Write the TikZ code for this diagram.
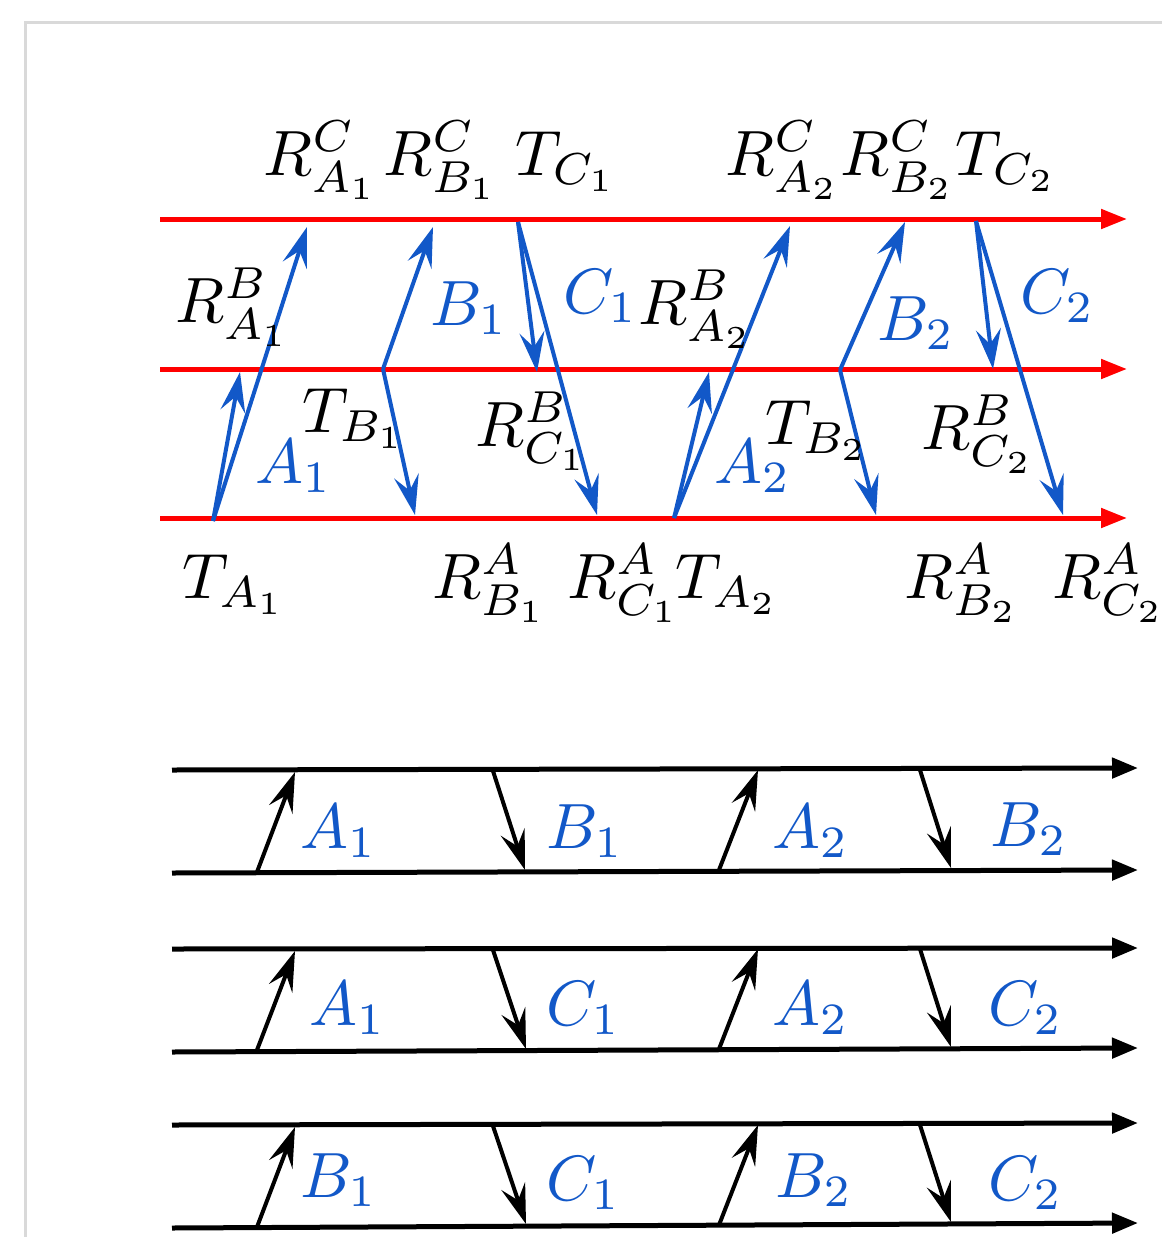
\documentclass[tikz,border=0pt]{standalone}
\usepackage{graphicx}
\usetikzlibrary{arrows.meta}
\definecolor{myblue}{RGB}{18,88,200}
\definecolor{frame}{RGB}{217,217,217}
\newcommand{\lblmath}[1]{\scalebox{6.4}{$#1$}}
\begin{document}
\begin{tikzpicture}[x=1pt,y=-1pt,
  lbl/.style={inner sep=0pt,anchor=base west},
  blbl/.style={lbl,text=myblue},
  redline/.style={draw=red,line width=5pt,-{Triangle[length=26pt,width=19pt]}},
  blkline/.style={draw=black,line width=5pt,-{Triangle[length=26pt,width=20pt]}},
  bluearr/.style={draw=myblue,line width=4pt,-{Stealth[length=40pt,width=25pt,inset=15pt]}},
  blkarr/.style={draw=black,line width=4pt,-{Stealth[length=40pt,width=25pt,inset=15pt]}}]
\useasboundingbox (0,0) rectangle (1162,1237);
% frame
\coordinate (f1) at (25,1240);
\coordinate (f2) at (25,22);
\coordinate (f3) at (1165,22);
\draw[frame,line width=3pt] (f1) -- (f2) -- (f3);

% ---------- top diagram: red time lines ----------
\coordinate (rs1) at (160,219); \coordinate (re1) at (1127,219);
\coordinate (rs2) at (160,369); \coordinate (re2) at (1127,369);
\coordinate (rs3) at (160,518); \coordinate (re3) at (1127,518);
\draw[redline] (rs1) -- (re1);
\draw[redline] (rs2) -- (re2);
\draw[redline] (rs3) -- (re3);

% A1
\coordinate (a1o) at (213,521);
\coordinate (a1t) at (307,227);
\coordinate (a1m) at (240,372);
\draw[bluearr] (a1o) -- (a1t);
\draw[bluearr] (a1o) -- (a1m);
% B1
\coordinate (b1o) at (383,369);
\coordinate (b1t) at (433,227);
\coordinate (b1b) at (415,515);
\draw[bluearr] (b1o) -- (b1t);
\draw[bluearr] (b1o) -- (b1b);
% C1
\coordinate (c1o) at (518,222);
\coordinate (c1m) at (537,372);
\coordinate (c1b) at (597,515);
\draw[bluearr] (c1o) -- (c1m);
\draw[bluearr] (c1o) -- (c1b);
% A2
\coordinate (a2o) at (674,518);
\coordinate (a2t) at (790,226);
\coordinate (a2m) at (709,372);
\draw[bluearr] (a2o) -- (a2t);
\draw[bluearr] (a2o) -- (a2m);
% B2
\coordinate (b2o) at (840,370);
\coordinate (b2t) at (905,222);
\coordinate (b2b) at (876,515);
\draw[bluearr] (b2o) -- (b2t);
\draw[bluearr] (b2o) -- (b2b);
% C2
\coordinate (c2o) at (976,221);
\coordinate (c2m) at (993,369);
\coordinate (c2b) at (1063,515);
\draw[bluearr] (c2o) -- (c2m);
\draw[bluearr] (c2o) -- (c2b);

% labels top row
\node[lbl] (RCA1) at (263,175) {\lblmath{R^{C}_{A_1}}};
\node[lbl] (RCB1) at (383,175) {\lblmath{R^{C}_{B_1}}};
\node[lbl] (TC1)  at (515,175) {\lblmath{T_{C_1}}};
\node[lbl] (RCA2) at (725,175) {\lblmath{R^{C}_{A_2}}};
\node[lbl] (RCB2) at (840,175) {\lblmath{R^{C}_{B_2}}};
\node[lbl] (TC2)  at (955,175) {\lblmath{T_{C_2}}};
% labels between lines 1 and 2
\node[lbl]  (RBA1) at (175,322) {\lblmath{R^{B}_{A_1}}};
\node[blbl] (B1)   at (430,325) {\lblmath{B_1}};
\node[blbl] (C1)   at (563,313) {\lblmath{C_1}};
\node[lbl]  (RBA2) at (638,324) {\lblmath{R^{B}_{A_2}}};
\node[blbl] (B2)   at (877,340) {\lblmath{B_2}};
\node[blbl] (C2)   at (1020,313) {\lblmath{C_2}};
% labels between lines 2 and 3
\node[lbl]  (TB1)  at (302,432) {\lblmath{T_{B_1}}};
\node[blbl] (A1)   at (255,483) {\lblmath{A_1}};
\node[lbl]  (RBC1) at (475,446) {\lblmath{R^{B}_{C_1}}};
\node[blbl] (A2)   at (714,483) {\lblmath{A_2}};
\node[lbl]  (TB2)  at (765,444) {\lblmath{T_{B_2}}};
\node[lbl]  (RBC2) at (921,449) {\lblmath{R^{B}_{C_2}}};
% labels below
\node[lbl] (TA1)  at (182,598) {\lblmath{T_{A_1}}};
\node[lbl] (RAB1) at (432,598) {\lblmath{R^{A}_{B_1}}};
\node[lbl] (RAC1) at (567,598) {\lblmath{R^{A}_{C_1}}};
\node[lbl] (TA2)  at (675,598) {\lblmath{T_{A_2}}};
\node[lbl] (RAB2) at (904,598) {\lblmath{R^{A}_{B_2}}};
\node[lbl] (RAC2) at (1052,598) {\lblmath{R^{A}_{C_2}}};

% ---------- lower diagrams ----------
% D1
\coordinate (d1ts) at (172,770); \coordinate (d1te) at (1138,768);
\coordinate (d1bs) at (172,873); \coordinate (d1be) at (1138,870);
\draw[blkline] (d1ts) -- (d1te);
\draw[blkline] (d1bs) -- (d1be);
\coordinate (d1u1s) at (257,872); \coordinate (d1u1t) at (295,772);
\coordinate (d1d1s) at (493,771); \coordinate (d1d1t) at (525,870);
\coordinate (d1u2s) at (719,870); \coordinate (d1u2t) at (758,770);
\coordinate (d1d2s) at (920,770); \coordinate (d1d2t) at (951,868);
\draw[blkarr] (d1u1s) -- (d1u1t);
\draw[blkarr] (d1d1s) -- (d1d1t);
\draw[blkarr] (d1u2s) -- (d1u2t);
\draw[blkarr] (d1d2s) -- (d1d2t);
\node[blbl] (d1A1) at (300,848) {\lblmath{A_1}};
\node[blbl] (d1B1) at (546,848) {\lblmath{B_1}};
\node[blbl] (d1A2) at (772,848) {\lblmath{A_2}};
\node[blbl] (d1B2) at (990,846) {\lblmath{B_2}};

% D2
\coordinate (d2ts) at (172,949); \coordinate (d2te) at (1138,948);
\coordinate (d2bs) at (172,1052); \coordinate (d2be) at (1138,1048);
\draw[blkline] (d2ts) -- (d2te);
\draw[blkline] (d2bs) -- (d2be);
\coordinate (d2u1s) at (257,1050); \coordinate (d2u1t) at (295,951);
\coordinate (d2d1s) at (493,950); \coordinate (d2d1t) at (526,1049);
\coordinate (d2u2s) at (719,1049); \coordinate (d2u2t) at (758,949);
\coordinate (d2d2s) at (920,949); \coordinate (d2d2t) at (951,1047);
\draw[blkarr] (d2u1s) -- (d2u1t);
\draw[blkarr] (d2d1s) -- (d2d1t);
\draw[blkarr] (d2u2s) -- (d2u2t);
\draw[blkarr] (d2d2s) -- (d2d2t);
\node[blbl] (d2A1) at (309,1025) {\lblmath{A_1}};
\node[blbl] (d2C1) at (546,1025) {\lblmath{C_1}};
\node[blbl] (d2A2) at (772,1025) {\lblmath{A_2}};
\node[blbl] (d2C2) at (988,1025) {\lblmath{C_2}};

% D3
\coordinate (d3ts) at (172,1125); \coordinate (d3te) at (1138,1123);
\coordinate (d3bs) at (172,1228); \coordinate (d3be) at (1138,1223);
\draw[blkline] (d3ts) -- (d3te);
\draw[blkline] (d3bs) -- (d3be);
\coordinate (d3u1s) at (257,1227); \coordinate (d3u1t) at (295,1127);
\coordinate (d3d1s) at (493,1126); \coordinate (d3d1t) at (526,1224);
\coordinate (d3u2s) at (719,1225); \coordinate (d3u2t) at (758,1125);
\coordinate (d3d2s) at (920,1125); \coordinate (d3d2t) at (951,1222);
\draw[blkarr] (d3u1s) -- (d3u1t);
\draw[blkarr] (d3d1s) -- (d3d1t);
\draw[blkarr] (d3u2s) -- (d3u2t);
\draw[blkarr] (d3d2s) -- (d3d2t);
\node[blbl] (d3B1) at (300,1197) {\lblmath{B_1}};
\node[blbl] (d3C1) at (546,1200) {\lblmath{C_1}};
\node[blbl] (d3B2) at (775,1197) {\lblmath{B_2}};
\node[blbl] (d3C2) at (988,1200) {\lblmath{C_2}};
\end{tikzpicture}
\end{document}
